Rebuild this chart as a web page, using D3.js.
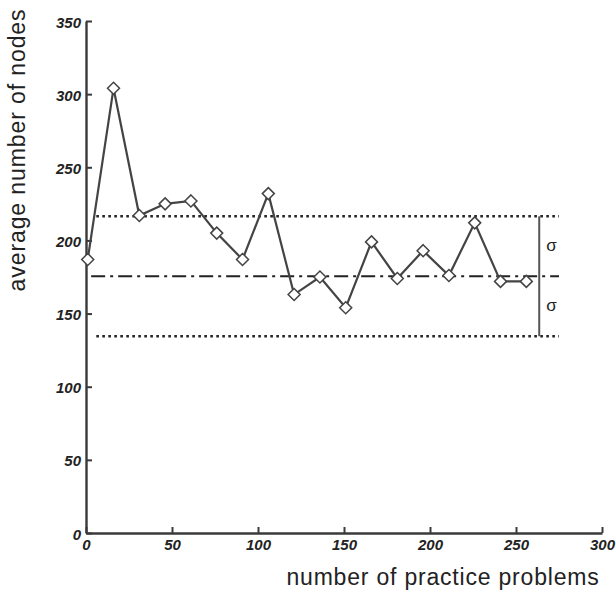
<!DOCTYPE html>
<html>
<head>
<meta charset="utf-8">
<script src="https://cdn.jsdelivr.net/npm/d3@7"></script>
<style>
  html, body { margin: 0; padding: 0; background: #fff; }
  svg { display: block; }
</style>
</head>
<body>
<svg id="chart" width="616" height="593"></svg>
<script>
// ---- data ----
const problems = [1, 16, 31, 46, 61, 76, 91, 106, 121, 136, 151, 166, 181, 196, 211, 226, 241, 256];
const avgNodes = [187, 304, 217, 225, 227, 205, 187, 232, 163, 175, 154, 199, 174, 193, 176, 212, 172, 172];
const meanValue = 175.5;
const sigmaValue = 41;
const xTicks = [0, 50, 100, 150, 200, 250, 300];
const yTicks = [0, 50, 100, 150, 200, 250, 300, 350];
const refStart = 6, refEnd = 275, bracketX = 263.5;

const svg = d3.select("#chart");
const ink = "#3a3a3a";
const font = "'Liberation Sans', Arial, Helvetica, sans-serif";

const x = d3.scaleLinear().domain([0, 300]).range([86, 602]);
const y = d3.scaleLinear().domain([0, 350]).range([533, 21]);

// axes
const xAxis = d3.axisBottom(x).tickValues(xTicks).tickSizeInner(-6).tickSizeOuter(0).tickPadding(6);
const yAxis = d3.axisLeft(y).tickValues(yTicks).tickSizeInner(-6).tickSizeOuter(0).tickPadding(5);

const gx = svg.append("g").attr("transform", `translate(0,${y(0)})`).call(xAxis);
const gy = svg.append("g").attr("transform", `translate(${x(0)},0)`).call(yAxis);

[gx, gy].forEach(g => {
  g.select(".domain").attr("stroke", ink).attr("stroke-width", 2.4);
  g.selectAll(".tick line").attr("stroke", ink).attr("stroke-width", 2);
  g.selectAll(".tick text")
    .attr("fill", "#222")
    .style("font-family", font)
    .style("font-size", "15px")
    .style("font-weight", "bold")
    .style("font-style", "italic");
});
gy.selectAll(".tick text").attr("dy", "0.4em");
gx.selectAll(".tick text").attr("dy", "0.75em");

// reference lines
const refs = [
  { v: meanValue + sigmaValue, dash: "2.6,3.4", w: 2.6 },
  { v: meanValue - sigmaValue, dash: "2.6,3.4", w: 2.6 },
  { v: meanValue, dash: "14,5,3,5", w: 2.2 }
];
svg.append("g").selectAll("line").data(refs).join("line")
  .attr("x1", d => x(d.v === meanValue ? 3 : refStart))
  .attr("x2", d => x(refEnd))
  .attr("y1", d => y(d.v)).attr("y2", d => y(d.v))
  .attr("stroke", "#222")
  .attr("stroke-width", d => d.w)
  .attr("stroke-dasharray", d => d.dash);

// sigma bracket
svg.append("line")
  .attr("x1", x(bracketX)).attr("x2", x(bracketX))
  .attr("y1", y(meanValue + sigmaValue)).attr("y2", y(meanValue - sigmaValue))
  .attr("stroke", "#555").attr("stroke-width", 2);

svg.append("g").selectAll("text").data([meanValue + sigmaValue / 2, meanValue - sigmaValue / 2]).join("text")
  .attr("x", x(bracketX) + 7)
  .attr("y", d => y(d) + 5)
  .attr("fill", "#222")
  .style("font-family", font)
  .style("font-size", "17px")
  .text("σ");

// data line
const pts = problems.map((p, i) => [p, avgNodes[i]]);
svg.append("path")
  .datum(pts)
  .attr("fill", "none")
  .attr("stroke", "#444")
  .attr("stroke-width", 2.2)
  .attr("d", d3.line().x(d => x(d[0])).y(d => y(d[1])));

// diamond markers
svg.append("g").selectAll("path").data(pts).join("path")
  .attr("transform", d => `translate(${x(d[0])},${y(d[1])})`)
  .attr("d", "M0,-6L6,0L0,6L-6,0Z")
  .attr("fill", "#fff")
  .attr("stroke", "#444")
  .attr("stroke-width", 1.5);

// axis titles
svg.append("text")
  .attr("x", 443).attr("y", 585)
  .attr("text-anchor", "middle")
  .attr("fill", "#222")
  .style("font-family", font)
  .style("font-size", "23px")
  .style("letter-spacing", "0.8px")
  .text("number of practice problems");

svg.append("text")
  .attr("transform", "translate(25,150) rotate(-90)")
  .attr("text-anchor", "middle")
  .attr("fill", "#222")
  .style("font-family", font)
  .style("font-size", "23px")
  .style("letter-spacing", "0.9px")
  .text("average number of nodes");
</script>
</body>
</html>
